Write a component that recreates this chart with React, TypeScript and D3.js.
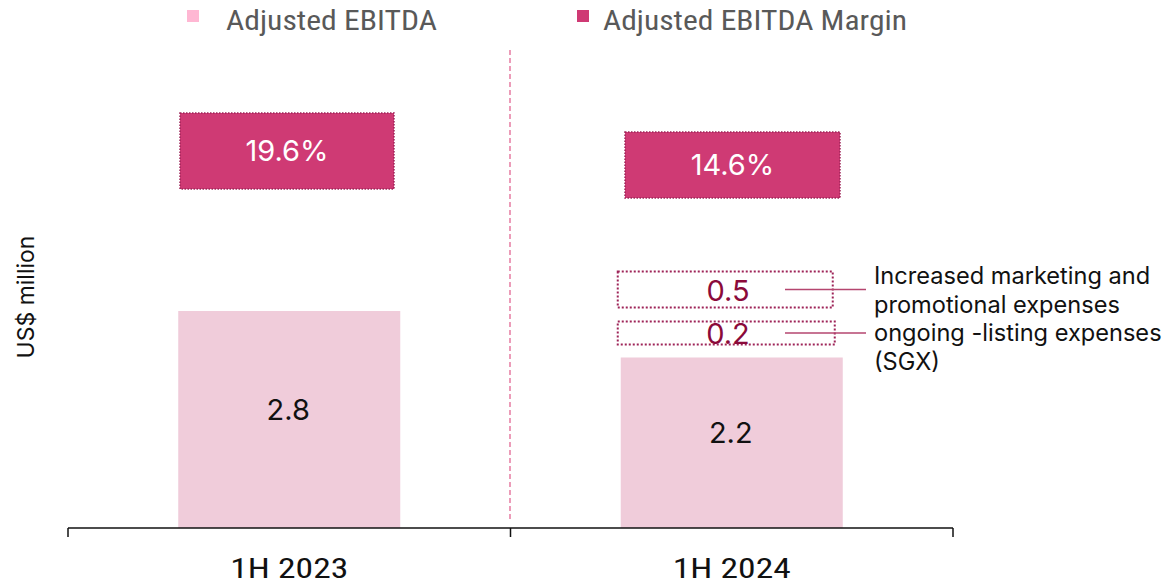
import { useRef, useEffect } from "react"
import * as d3 from "d3"

const periods = ["1H 2023", "1H 2024"]
const ebitda = [2.8, 2.2]
const margins = ["19.6%", "14.6%"]
const bridgeValues = [0.2, 0.5]
const bridgeNotes = [
  ["Increased marketing and", "promotional expenses"],
  ["ongoing -listing expenses", "(SGX)"],
]
const legendItems = ["Adjusted EBITDA", "Adjusted EBITDA Margin"]

const W = 1169
const H = 583

export default function App() {
  const svgRef = useRef<SVGSVGElement>(null)

  useEffect(() => {
    if (!svgRef.current) return
    const svg = d3.select(svgRef.current)
    svg.selectAll("*").remove()

    const baseY = 528
    const x = d3.scaleBand().domain(periods).range([68, 953]).paddingInner(0).paddingOuter(0)
    const y = d3.scaleLinear().domain([0, 2.8]).range([baseY, 311])
    const barW = 222
    const barX = (p: string) => x(p)! + (x.bandwidth() - barW) / 2
    const sans = "Inter, 'Noto Sans', sans-serif"
    const narrow = "'Roboto Condensed', 'Liberation Sans Narrow', 'Liberation Sans', sans-serif"

    // legend
    const legColors = ["#FFB7D3", "#CF3A74"]
    const legX = [187, 577]
    const legTextX = [226, 603]
    const legLen = [211, 304]
    legendItems.forEach((t, i) => {
      svg.append("rect").attr("x", legX[i]).attr("y", 10).attr("width", 12).attr("height", 12).attr("fill", legColors[i])
      svg
        .append("text")
        .attr("x", legTextX[i])
        .attr("y", 30)
        .attr("font-family", narrow)
        .attr("font-size", 27)
        .attr("fill", "#595959")
        .attr("textLength", legLen[i])
        .attr("lengthAdjust", "spacingAndGlyphs")
        .text(t)
    })

    // divider
    svg
      .append("line")
      .attr("x1", 510)
      .attr("x2", 510)
      .attr("y1", 50)
      .attr("y2", 520)
      .attr("stroke", "#E05A8A")
      .attr("stroke-width", 1.2)
      .attr("stroke-dasharray", "5,3")

    // bars
    svg
      .selectAll("rect.bar")
      .data(periods)
      .join("rect")
      .attr("class", "bar")
      .attr("x", (d) => barX(d))
      .attr("y", (d, i) => y(ebitda[i]))
      .attr("width", barW)
      .attr("height", (d, i) => baseY - y(ebitda[i]))
      .attr("fill", "#F0CCDA")

    svg
      .selectAll("text.val")
      .data(periods)
      .join("text")
      .attr("class", "val")
      .attr("x", (d) => x(d)! + x.bandwidth() / 2 - 1)
      .attr("y", (d, i) => (y(ebitda[i]) + baseY) / 2)
      .attr("text-anchor", "middle")
      .attr("font-family", sans)
      .attr("font-size", 29)
      .attr("fill", "#111")
      .text((d, i) => ebitda[i].toFixed(1))

    // margin boxes
    const mBox = [
      { x: 180, y: 113, w: 214, h: 76 },
      { x: 625, y: 132, w: 215, h: 66 },
    ]
    margins.forEach((m, i) => {
      const b = mBox[i]
      svg
        .append("rect")
        .attr("x", b.x)
        .attr("y", b.y)
        .attr("width", b.w)
        .attr("height", b.h)
        .attr("fill", "#CF3A74")
        .attr("stroke", "#9E2458")
        .attr("stroke-width", 1.5)
        .attr("stroke-dasharray", "1.5,1.5")
      svg
        .append("text")
        .attr("x", b.x + b.w / 2)
        .attr("y", b.y + b.h / 2 + 10)
        .attr("text-anchor", "middle")
        .attr("font-family", sans)
        .attr("font-size", 29)
        .attr("fill", "#fff")
        .text(m)
    })

    // bridge boxes
    const bx = barX(periods[1]) - 3
    const bBox = [
      { y: y(ebitda[1]) - 36, h: 23, w: 217 },
      { y: y(ebitda[1]) - 86, h: 36, w: 215 },
    ]
    bridgeValues.forEach((v, i) => {
      const b = bBox[i]
      svg
        .append("rect")
        .attr("x", bx)
        .attr("y", b.y)
        .attr("width", b.w)
        .attr("height", b.h)
        .attr("fill", "none")
        .attr("stroke", "#9E2458")
        .attr("stroke-width", 2)
        .attr("stroke-dasharray", "2,2")
      svg
        .append("text")
        .attr("x", 728)
        .attr("y", b.y + b.h / 2 + 11)
        .attr("text-anchor", "middle")
        .attr("font-family", sans)
        .attr("font-size", 29)
        .attr("fill", "#8B0A3A")
        .text(v.toFixed(1))
      svg
        .append("line")
        .attr("x1", 785)
        .attr("x2", 866)
        .attr("y1", b.y + b.h / 2)
        .attr("y2", b.y + b.h / 2)
        .attr("stroke", "#B5466F")
        .attr("stroke-width", 1.3)
    })

    // notes
    const noteLines = [...bridgeNotes[0], ...bridgeNotes[1]]
    noteLines.forEach((t, i) => {
      svg
        .append("text")
        .attr("x", 874)
        .attr("y", 284 + i * 28.5)
        .attr("font-family", sans)
        .attr("font-size", 23.6)
        .attr("fill", "#111")
        .text(t)
    })

    // axis
    const ax = svg.append("g")
    ax.append("line").attr("x1", 68).attr("x2", 953).attr("y1", baseY).attr("y2", baseY).attr("stroke", "#111").attr("stroke-width", 1.5)
    const ticks = [68, ...periods.map((p) => x(p)! + x.bandwidth())]
    ticks.forEach((t) => {
      ax.append("line").attr("x1", t).attr("x2", t).attr("y1", baseY).attr("y2", baseY + 9).attr("stroke", "#111").attr("stroke-width", 1.5)
    })
    periods.forEach((p) => {
      ax.append("text")
        .attr("x", x(p)! + x.bandwidth() / 2)
        .attr("y", 578)
        .attr("text-anchor", "middle")
        .attr("font-family", narrow)
        .attr("font-size", 28)
        .attr("fill", "#111")
        .attr("textLength", 118)
        .attr("lengthAdjust", "spacingAndGlyphs")
        .text(p)
    })

    svg
      .append("text")
      .attr("transform", `translate(34, 297) rotate(-90)`)
      .attr("text-anchor", "middle")
      .attr("font-family", sans)
      .attr("font-size", 23)
      .attr("fill", "#111")
      .text("US$ million")
  }, [])

  return (
    <div style={{ position: "absolute", left: 0, top: 0 }}>
      <svg ref={svgRef} width={W} height={H} style={{ display: "block", background: "#fff" }} />
    </div>
  )
}
